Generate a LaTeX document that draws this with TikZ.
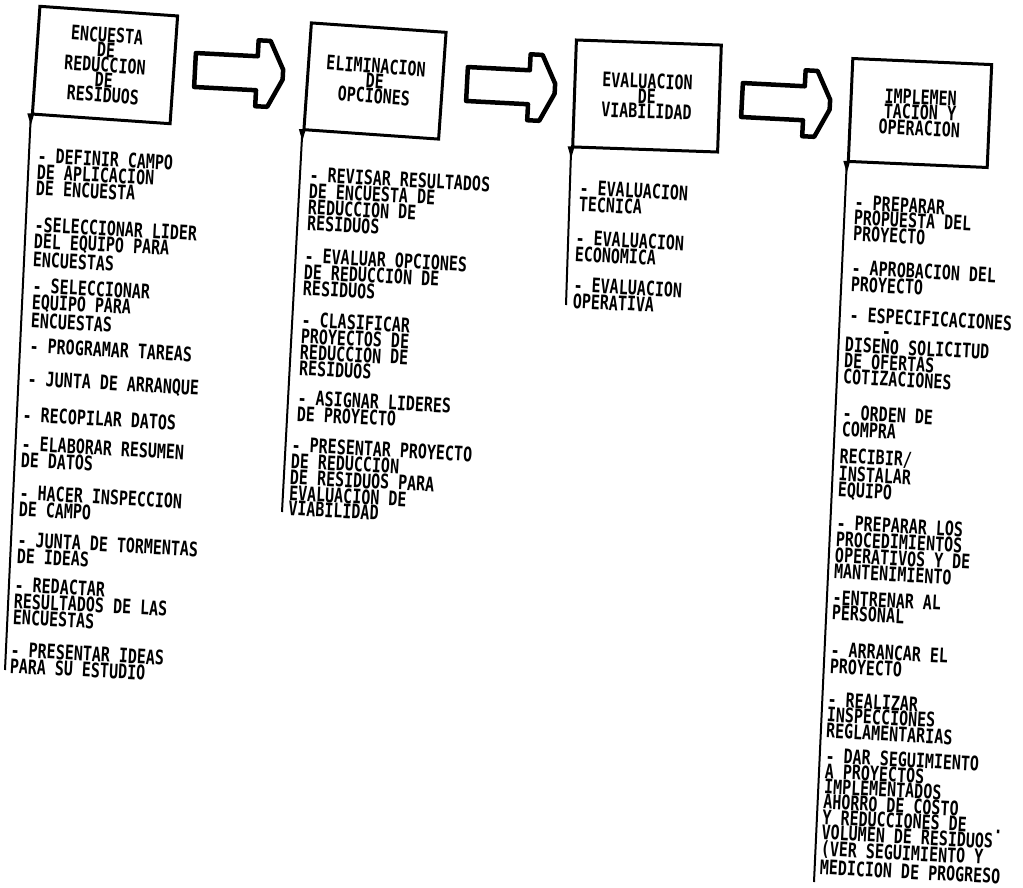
\documentclass[tikz,border=0pt]{standalone}
\usepackage{fontspec}
\newfontfamily\plotfont{DejaVu Sans Mono}[FakeStretch=0.75]
\begin{document}
\begin{tikzpicture}[x=1pt,y=-1pt,
  stage/.style={draw, line width=3pt, inner sep=0pt, align=center,
    font=\plotfont\bfseries\fontsize{20}{15}\selectfont},
  item/.style={anchor=north west, inner sep=0pt, align=left, rotate=-3,
    font=\plotfont\bfseries\fontsize{20}{15}\selectfont},
  wideitem/.style={item, font=\plotfont\bfseries\fontsize{20}{15.3}\selectfont},
  stem/.style={line width=2pt},
  bigarrow/.pic={\draw[line width=4.5pt, line join=round]
     (0,-17) -- (62,-17) -- (62,-33) -- (74,-33) -- (88,-5) -- (88,5)
     -- (74,33) -- (62,33) -- (62,17) -- (0,17) -- cycle;}]
\useasboundingbox (0,0) rectangle (1023,887);

% stage boxes
\node[stage, minimum width=138pt, minimum height=108pt, rotate=-4] (b1) at (105,65)
  {ENCUESTA\\DE\\REDUCCION\\DE\\RESIDUOS};
\node[stage, minimum width=135pt, minimum height=107pt, rotate=-4] (b2) at (375,81)
  {ELIMINACION\\DE\\OPCIONES};
\node[stage, minimum width=145pt, minimum height=107pt, rotate=-2] (b3) at (647,96)
  {EVALUACION\\DE\\VIABILIDAD};
\node[stage, minimum width=139pt, minimum height=103pt, rotate=-2.5] (b4) at (920,113)
  {IMPLEMEN\\TACION Y\\OPERACION};

% block arrows
\pic[rotate=-3] (a1) at (195,70) {bigarrow};
\pic[rotate=-3] (a2) at (467,84) {bigarrow};
\pic[rotate=-3] (a3) at (742,100) {bigarrow};

% stems with pins
\coordinate (e1) at (5,670);
\coordinate (e2) at (282,512);
\coordinate (e3) at (566,305);
\coordinate (e4) at (814,882);
\foreach \b/\e in {b1/e1, b2/e2, b3/e3, b4/e4}{
  \draw[stem] (\b.south west) -- (\e);
  \fill (\b.south west) ++(-3.5,-2) -- ++(7,0) -- ++(-3.5,12) -- cycle;
}

% column 1
\node[item] (t11) at (38,148) {- DEFINIR CAMPO\\DE APLICACION\\DE ENCUESTA};
\node[item] (t12) at (35,217) {-SELECCIONAR LIDER\\DEL EQUIPO PARA\\ENCUESTAS};
\node[item] (t13) at (33,278) {- SELECCIONAR\\EQUIPO PARA\\ENCUESTAS};
\node[item] (t14) at (30,338) {- PROGRAMAR TAREAS};
\node[item] (t15) at (28,371) {- JUNTA DE ARRANQUE};
\node[item] (t16) at (23,407) {- RECOPILAR DATOS};
\node[item] (t17) at (22,436) {- ELABORAR RESUMEN\\DE DATOS};
\node[item] (t18) at (20,485) {- HACER INSPECCION\\DE CAMPO};
\node[item] (t19) at (18,532) {- JUNTA DE TORMENTAS\\DE IDEAS};
\node[item] (t110) at (15,577) {- REDACTAR\\RESULTADOS DE LAS\\ENCUESTAS};
\node[item] (t111) at (11,642) {- PRESENTAR IDEAS\\PARA SU ESTUDIO};

% column 2
\node[item] (t21) at (310,167) {- REVISAR RESULTADOS\\DE ENCUESTA DE\\REDUCCION DE\\RESIDUOS};
\node[item] (t22) at (305,248) {- EVALUAR OPCIONES\\DE REDUCCION DE\\RESIDUOS};
\node[item] (t23) at (302,312) {- CLASIFICAR\\PROYECTOS DE\\REDUCCION DE\\RESIDUOS};
\node[item] (t24) at (298,390) {- ASIGNAR LIDERES\\DE PROYECTO};
\node[item] (t25) at (292,437) {- PRESENTAR PROYECTO\\DE REDUCCION\\DE RESIDUOS PARA\\EVALUACION DE\\VIABILIDAD};

% column 3
\node[item] (t31) at (580,180) {- EVALUACION\\TECNICA};
\node[item] (t32) at (576,230) {- EVALUACION\\ECONOMICA};
\node[item] (t33) at (574,277) {- EVALUACION\\OPERATIVA};

% column 4
\node[item] (t41) at (855,195) {- PREPARAR\\PROPUESTA DEL\\PROYECTO};
\node[item] (t42) at (852,260) {- APROBACION DEL\\PROYECTO};
\node[item] (t43) at (850,307) {- ESPECIFICACIONES};
\node[item] (t44) at (846,322) {\vphantom{D}~~~~-\\DISENO SOLICITUD\\DE OFERTAS\\COTIZACIONES};
\node[item] (t45) at (843,405) {- ORDEN DE\\COMPRA};
\node[item] (t46) at (840,448) {RECIBIR/\\INSTALAR\\EQUIPO};
\node[item] (t47) at (837,515) {- PREPARAR LOS\\PROCEDIMIENTOS\\OPERATIVOS Y DE\\MANTENIMIENTO};
\node[item] (t48) at (833,590) {-ENTRENAR AL\\PERSONAL};
\node[item] (t49) at (831,642) {- ARRANCAR EL\\PROYECTO};
\node[item] (t410) at (828,692) {- REALIZAR\\INSPECCIONES\\REGLAMENTARIAS};
\node[wideitem] (t411) at (826,748) {- DAR SEGUIMIENTO\\A PROYECTOS\\IMPLEMENTADOS\\AHORRO DE COSTO\\Y REDUCCIONES DE~~~.\\VOLUMEN DE RESIDUOS\\(VER SEGUIMIENTO Y\\MEDICION DE PROGRESO};
\end{tikzpicture}
\end{document}
